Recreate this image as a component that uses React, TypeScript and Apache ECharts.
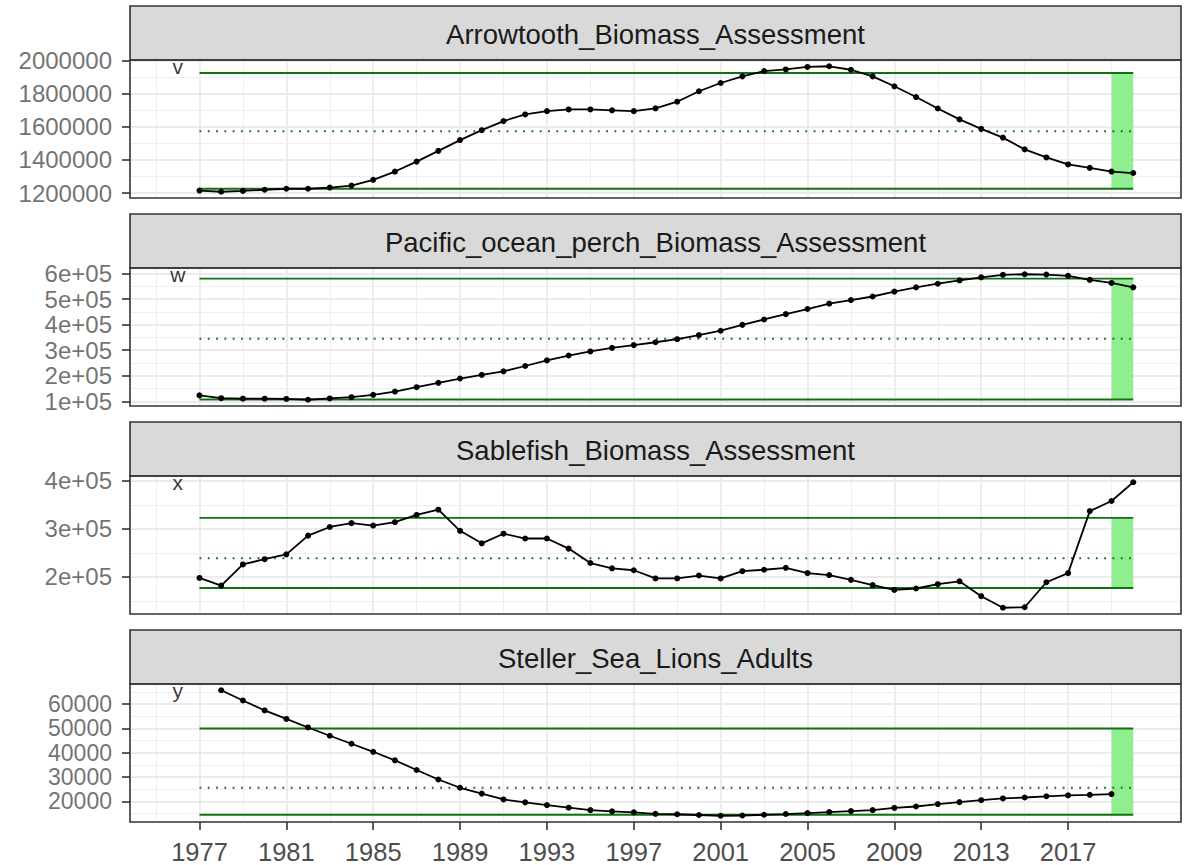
import React, { useEffect, useRef } from "react";
import * as echarts from "echarts";

const years = [
  1977, 1978, 1979, 1980, 1981, 1982, 1983, 1984, 1985, 1986, 1987, 1988, 1989, 1990, 1991,
  1992, 1993, 1994, 1995, 1996, 1997, 1998, 1999, 2000, 2001, 2002, 2003, 2004, 2005, 2006,
  2007, 2008, 2009, 2010, 2011, 2012, 2013, 2014, 2015, 2016, 2017, 2018, 2019, 2020,
];

const arrowtooth = [
  1215000, 1208000, 1213000, 1220000, 1226000, 1226000, 1233000, 1245000, 1280000, 1330000,
  1390000, 1455000, 1520000, 1580000, 1635000, 1675000, 1695000, 1705000, 1705000, 1700000,
  1695000, 1712000, 1752000, 1815000, 1865000, 1905000, 1937000, 1947000, 1962000, 1966000,
  1945000, 1905000, 1845000, 1780000, 1711000, 1645000, 1588000, 1535000, 1464000, 1415000,
  1373000, 1352000, 1330000, 1321000,
];

const perch = [
  123000, 112000, 110000, 110000, 109000, 106000, 111000, 116000, 125000, 138000,
  155000, 172000, 189000, 203000, 217000, 238000, 260000, 279000, 295000, 309000,
  320000, 331000, 343000, 359000, 376000, 399000, 420000, 441000, 461000, 482000,
  496000, 510000, 529000, 546000, 560000, 573000, 585000, 595000, 597000, 596000,
  591000, 575000, 563000, 546000,
];

const sablefish = [
  198000, 182000, 226000, 237000, 247000, 286000, 304000, 312000, 307000, 314000,
  329000, 340000, 296000, 270000, 290000, 280000, 280000, 259000, 229000, 218000,
  214000, 197000, 197000, 203000, 197000, 212000, 215000, 219000, 208000, 204000,
  194000, 183000, 173000, 176000, 185000, 191000, 160000, 136000, 137000, 189000,
  208000, 337000, 358000, 397000,
];

const seaLions = [
  null, 65700, 61500, 57400, 53900, 50400, 47000, 43700, 40400, 36900,
  32900, 29000, 25600, 23200, 20800, 19600, 18500, 17400, 16400, 15900,
  15500, 14900, 14700, 14400, 14100, 14200, 14500, 14800, 15200, 15600,
  16000, 16400, 17300, 17900, 18900, 19700, 20500, 21200, 21600, 22100,
  22500, 22700, 23000, null,
];

const panelTitles = [
  "Arrowtooth_Biomass_Assessment",
  "Pacific_ocean_perch_Biomass_Assessment",
  "Sablefish_Biomass_Assessment",
  "Steller_Sea_Lions_Adults",
];
const panelLetters = ["v", "w", "x", "y"];
const letterYear = 1976;
const upperRef = [1925000, 580000, 323000, 50000];
const lowerRef = [1226000, 107000, 177000, 14500];
const meanRef = [1573000, 345000, 239000, 25600];
const refStartYear = 1977;
const refEndYear = 2020;
const bandStartYear = 2019;

const yearTicks = [1977, 1981, 1985, 1989, 1993, 1997, 2001, 2005, 2009, 2013, 2017];
const yearMinor = [1975, 1979, 1983, 1987, 1991, 1995, 1999, 2003, 2007, 2011, 2015, 2019];

const yTicks1 = [1200000, 1400000, 1600000, 1800000, 2000000];
const yMinor1 = [1100000, 1300000, 1500000, 1700000, 1900000];
const yTicks2 = [100000, 200000, 300000, 400000, 500000, 600000];
const yMinor2 = [50000, 150000, 250000, 350000, 450000, 550000];
const yTicks3 = [200000, 300000, 400000];
const yMinor3 = [150000, 250000, 350000];
const yTicks4 = [20000, 30000, 40000, 50000, 60000];
const yMinor4 = [15000, 25000, 35000, 45000, 55000, 65000];

const seriesValues = [arrowtooth, perch, sablefish, seaLions];
const yTicks = [yTicks1, yTicks2, yTicks3, yTicks4];
const yMinor = [yMinor1, yMinor2, yMinor3, yMinor4];
const sciFormat = [false, true, true, false];

const FONT = "Liberation Sans, Arial, Helvetica, sans-serif";
const LEFT = 130;
const WIDTH = 1051;
const STRIP_H = 54;
const PLOT_H = 138;
const FIRST_TOP = 6;
const STEP = 208;
const REF_GREEN = "#127012";
const X_TICK_FONT = 25.5;
const Y_TICK_FONTS = [24, 24, 24, 23];

function expand(lo: number, hi: number) {
  const pad = (hi - lo) * 0.05;
  return [lo - pad, hi + pad];
}

function buildOption() {
  const [xMin, xMax] = expand(letterYear, refEndYear);
  const grid: any[] = [];
  const xAxis: any[] = [];
  const yAxis: any[] = [];
  const series: any[] = [];
  const graphic: any[] = [];

  for (let i = 0; i < 4; i++) {
    const stripTop = FIRST_TOP + i * STEP;
    const plotTop = stripTop + STRIP_H;
    const vals = seriesValues[i];
    const pts: [number, number][] = [];
    years.forEach((y, k) => {
      const v = vals[k];
      if (v !== null && v !== undefined) pts.push([y, v as number]);
    });
    const dataVals = pts.map((p) => p[1]);
    const maxVal = Math.max(...dataVals);
    const lo = Math.min(...dataVals, lowerRef[i], meanRef[i], upperRef[i]);
    const hi = Math.max(...dataVals, lowerRef[i], meanRef[i], upperRef[i], maxVal);
    const [yMin, yMax] = expand(lo, hi);
    const isBottom = i === 3;
    const fmt = (v: number) => (sciFormat[i] ? `${Math.round(v / 100000)}e+05` : String(v));

    grid.push({ left: LEFT, top: plotTop, width: WIDTH, height: PLOT_H, show: false });

    xAxis.push({
      type: "value",
      gridIndex: i,
      min: xMin,
      max: xMax,
      splitLine: { show: false },
      axisLine: { show: false },
      axisTick: {
        show: isBottom,
        customValues: yearTicks,
        length: 8,
        lineStyle: { color: "#333333", width: 1.6 },
      },
      axisLabel: {
        show: isBottom,
        customValues: yearTicks,
        showMinLabel: true,
        showMaxLabel: true,
        fontSize: X_TICK_FONT,
        color: "#4D4D4D",
        fontFamily: FONT,
        margin: 17,
        formatter: (v: number) => String(v),
      },
    });

    yAxis.push({
      type: "value",
      gridIndex: i,
      min: yMin,
      max: yMax,
      splitLine: { show: false },
      axisLine: { show: false },
      axisTick: {
        show: true,
        customValues: yTicks[i],
        length: 8,
        lineStyle: { color: "#333333", width: 1.6 },
      },
      axisLabel: { show: false },
    });

    // y tick labels, placed through the axis scales at the left edge of the panel
    series.push({
      type: "scatter",
      xAxisIndex: i,
      yAxisIndex: i,
      data: yTicks[i].filter((v) => v >= yMin && v <= yMax).map((v) => [xMin, v]),
      symbol: "circle",
      symbolSize: 1,
      clip: false,
      silent: true,
      z: 6,
      itemStyle: { color: "rgba(0,0,0,0)" },
      label: {
        show: true,
        position: "left",
        distance: 17.5,
        formatter: (p: any) => fmt(p.value[1]),
        fontSize: Y_TICK_FONTS[i],
        lineHeight: 21,
        color: "#4D4D4D",
        fontFamily: FONT,
      },
      labelLayout: { hideOverlap: false },
    });

    const gridLines: any[] = [];
    yearTicks.forEach((x) =>
      gridLines.push({ xAxis: x, lineStyle: { color: "#EBEBEB", width: 1.8, type: "solid" } })
    );
    yearMinor
      .filter((x) => x > xMin && x < xMax)
      .forEach((x) =>
        gridLines.push({ xAxis: x, lineStyle: { color: "#EEEEEE", width: 1, type: "solid" } })
      );
    yTicks[i]
      .filter((v) => v > yMin && v < yMax)
      .forEach((v) =>
        gridLines.push({ yAxis: v, lineStyle: { color: "#EBEBEB", width: 1.8, type: "solid" } })
      );
    yMinor[i]
      .filter((v) => v > yMin && v < yMax)
      .forEach((v) =>
        gridLines.push({ yAxis: v, lineStyle: { color: "#EEEEEE", width: 1, type: "solid" } })
      );

    series.push({
      type: "line",
      xAxisIndex: i,
      yAxisIndex: i,
      data: [],
      silent: true,
      z: 1,
      markLine: {
        silent: true,
        z: 1,
        symbol: ["none", "none"],
        label: { show: false },
        emphasis: { disabled: true },
        lineStyle: { type: "solid" },
        data: gridLines,
      },
    });

    series.push({
      type: "line",
      xAxisIndex: i,
      yAxisIndex: i,
      data: [],
      silent: true,
      z: 2,
      markArea: {
        silent: true,
        z: 2,
        itemStyle: { color: "#90EE90", opacity: 1, borderWidth: 0 },
        emphasis: { disabled: true },
        label: { show: false },
        data: [[{ coord: [bandStartYear, lowerRef[i]] }, { coord: [refEndYear, upperRef[i]] }]],
      },
    });

    [upperRef[i], lowerRef[i]].forEach((v) =>
      series.push({
        type: "line",
        xAxisIndex: i,
        yAxisIndex: i,
        data: [
          [refStartYear, v],
          [refEndYear, v],
        ],
        showSymbol: false,
        silent: true,
        z: 3,
        lineStyle: { color: REF_GREEN, width: 1.9 },
      })
    );

    series.push({
      type: "line",
      xAxisIndex: i,
      yAxisIndex: i,
      data: [
        [refStartYear, meanRef[i]],
        [refEndYear, meanRef[i]],
      ],
      showSymbol: false,
      silent: true,
      z: 3,
      lineStyle: { color: REF_GREEN, width: 2, type: [1.8, 6.5], cap: "butt" },
    });

    series.push({
      type: "line",
      xAxisIndex: i,
      yAxisIndex: i,
      data: pts,
      symbol: "circle",
      symbolSize: 6,
      showSymbol: true,
      silent: true,
      z: 4,
      itemStyle: { color: "#000000" },
      lineStyle: { color: "#000000", width: 1.8 },
    });

    series.push({
      type: "scatter",
      xAxisIndex: i,
      yAxisIndex: i,
      data: [[letterYear, maxVal]],
      symbol: "circle",
      symbolSize: 1,
      silent: true,
      z: 5,
      itemStyle: { color: "rgba(0,0,0,0)" },
      label: {
        show: true,
        position: "inside",
        formatter: panelLetters[i],
        fontSize: 21,
        color: "#000000",
        fontFamily: FONT,
      },
    });

    graphic.push({
      type: "rect",
      z: 100,
      silent: true,
      shape: { x: LEFT, y: stripTop, width: WIDTH, height: STRIP_H },
      style: { fill: "#D9D9D9", stroke: "#333333", lineWidth: 1.6 },
    });
    graphic.push({
      type: "text",
      z: 101,
      silent: true,
      x: LEFT + WIDTH / 2,
      y: stripTop + STRIP_H / 2 + 1,
      style: {
        text: panelTitles[i],
        fontSize: 27.5,
        fontFamily: FONT,
        fill: "#1A1A1A",
        align: "center",
        verticalAlign: "middle",
      },
    });
    graphic.push({
      type: "rect",
      z: 100,
      silent: true,
      shape: { x: LEFT, y: plotTop, width: WIDTH, height: PLOT_H },
      style: { fill: "none", stroke: "#333333", lineWidth: 1.6 },
    });
  }

  return {
    animation: false,
    backgroundColor: "#FFFFFF",
    grid,
    xAxis,
    yAxis,
    series,
    graphic,
  };
}

export default function App() {
  const ref = useRef<HTMLDivElement>(null);
  useEffect(() => {
    if (!ref.current) return;
    const chart = echarts.init(ref.current, undefined, { renderer: "svg" });
    chart.setOption(buildOption() as any);
    return () => chart.dispose();
  }, []);
  return (
    <div
      ref={ref}
      style={{ position: "fixed", left: 0, top: 0, width: 1188, height: 865, background: "#fff" }}
    />
  );
}
